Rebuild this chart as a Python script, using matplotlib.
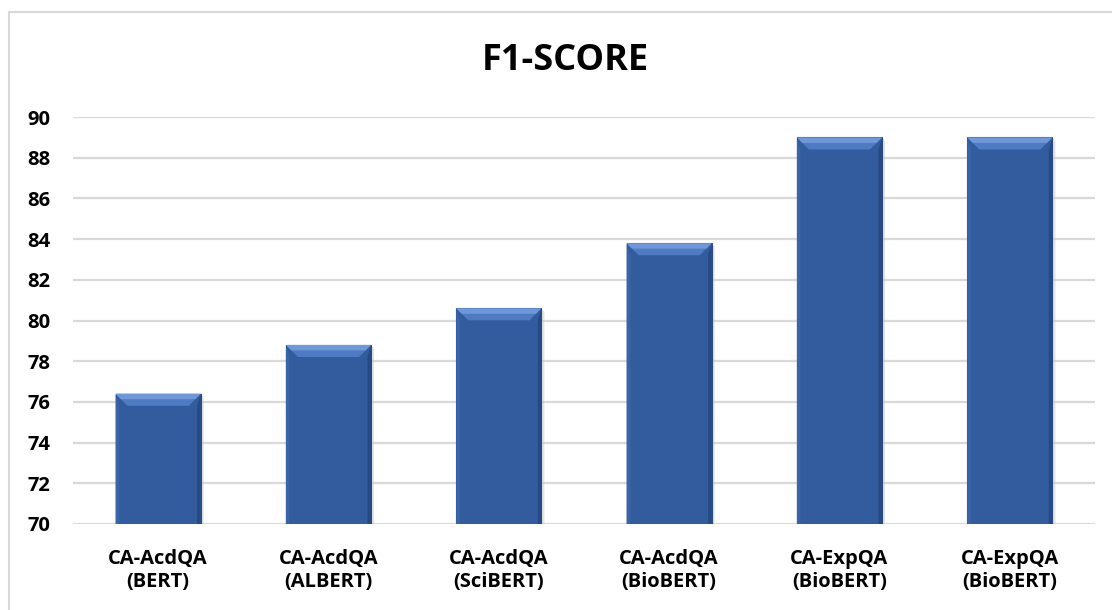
import numpy as np
import matplotlib
matplotlib.use('Agg')
import matplotlib.pyplot as plt
from matplotlib.patches import Polygon
from matplotlib.lines import Line2D

models = ["CA-AcdQA\n(BERT)", "CA-AcdQA\n(ALBERT)", "CA-AcdQA\n(SciBERT)",
          "CA-AcdQA\n(BioBERT)", "CA-ExpQA\n(BioBERT)", "CA-ExpQA\n(BioBERT)"]
f1_scores = [76.4, 78.8, 80.6, 83.8, 89.0, 89.0]
yticks = [70, 72, 74, 76, 78, 80, 82, 84, 86, 88, 90]

plt.rcParams['font.family'] = ['Open Sans', 'DejaVu Sans']

fig = plt.figure(figsize=(11.12, 6.10), dpi=100)
ax = fig.add_axes([0.0656, 0.141, 0.9191, 0.667])

x = np.arange(len(models))
bars = ax.bar(x, f1_scores, width=0.5, bottom=0, color='#335c9e', zorder=3,
              edgecolor='#2a4c85', linewidth=0.8)
ax.set_ylim(70, 90)
ax.set_xlim(-0.5, len(models) - 0.5)
ax.set_yticks(yticks)
ax.set_yticklabels([str(t) for t in yticks], fontsize=14.5, fontweight='bold')
ax.set_xticks(x)
ax.set_xticklabels(models, fontsize=14.5, fontweight='bold', linespacing=1.2)
ax.tick_params(length=0)
ax.tick_params(axis='x', pad=18)
ax.tick_params(axis='y', pad=16)
for s in ax.spines.values():
    s.set_visible(False)
ax.yaxis.grid(True, color='#d9d9d9', linewidth=1.6, zorder=0)

# bevel on the bar tops and sides
fig.canvas.draw()
inv = ax.transData.inverted()
dx = inv.transform((12, 0))[0] - inv.transform((0, 0))[0]
dy = inv.transform((0, 12))[1] - inv.transform((0, 0))[1]
sx = inv.transform((3, 0))[0] - inv.transform((0, 0))[0]
for b in bars:
    x0 = b.get_x()
    w = b.get_width()
    top = b.get_height()
    # shadow
    ax.add_patch(Polygon([(x0 + w, 70), (x0 + w + sx, 70), (x0 + w + sx, top - dy * 0.3),
                          (x0 + w, top)], closed=True, facecolor='#c8c8c8', alpha=0.5,
                         edgecolor='none', zorder=2))
    ax.add_patch(Polygon([(x0, top), (x0 + w, top), (x0 + w - dx, top - dy), (x0 + dx, top - dy)],
                         closed=True, facecolor='#4f7bc2', edgecolor='none', zorder=4))
    ax.add_patch(Polygon([(x0, top), (x0 + w, top), (x0 + w - dx * 0.45, top - dy * 0.45),
                          (x0 + dx * 0.45, top - dy * 0.45)],
                         closed=True, facecolor='#6f98da', edgecolor='none', zorder=4))
    ax.add_patch(Polygon([(x0, top), (x0 + dx * 0.3, top - dy), (x0 + dx * 0.3, 70), (x0, 70)],
                         closed=True, facecolor='#3b64a6', edgecolor='none', zorder=4))
    ax.add_patch(Polygon([(x0 + w, top), (x0 + w - dx * 0.3, top - dy), (x0 + w - dx * 0.3, 70),
                          (x0 + w, 70)], closed=True, facecolor='#284a82', edgecolor='none', zorder=4))

fig.text(0.508, 0.9, "F1-SCORE", ha='center', va='center', fontsize=26, fontweight='bold')

fig.add_artist(Line2D([0.008, 0.008], [0, 0.98], transform=fig.transFigure, color='#d9d9d9', linewidth=1.5))
fig.add_artist(Line2D([0.008, 1], [0.98, 0.98], transform=fig.transFigure, color='#d9d9d9', linewidth=1.5))

plt.savefig('out.png', dpi=100)
